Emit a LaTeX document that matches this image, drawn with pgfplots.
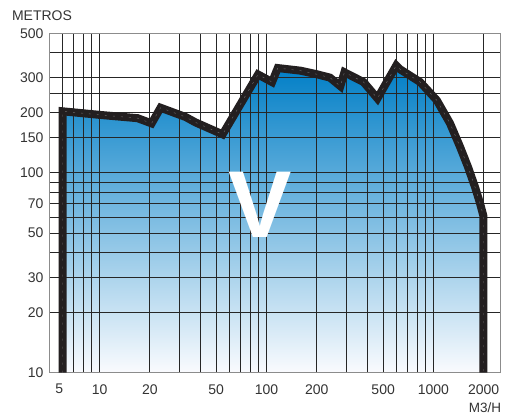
\documentclass[border=0pt]{standalone}
\usepackage{fontspec}
\setmainfont{Liberation Sans}
\usepackage{pgfplots}
\pgfplotsset{compat=1.18}
\definecolor{curve}{HTML}{231F20}
\definecolor{txt}{HTML}{333333}
\definecolor{topblue}{RGB}{0,126,198}
\definecolor{midblue}{RGB}{85,155,214}
\definecolor{botblue}{RGB}{250,251,254}
\begin{document}
\begin{tikzpicture}
\begin{axis}[
  set layers,
  scale only axis,
  width=450.7pt, height=339.4pt,
  xmode=log, ymode=log,
  xmin=5, xmax=2505, ymin=10, ymax=500,
  xtick={10,20,50,100,200,500,1000,2000},
  xticklabels={10,20,50,100,200,500,1000,2000},
  extra x ticks={5}, extra x tick labels={5},
  extra x tick style={xticklabel style={xshift=10pt}},
  minor xtick={6,7,8,9,30,40,60,70,80,90,300,400,600,700,800,900},
  ytick={10,20,30,50,70,100,150,200,300,500},
  yticklabels={10,20,30,50,70,100,150,200,300,500},
  minor ytick={40,60,80,90,250,400},
  grid=both,
  major grid style={black!85, line width=0.9pt},
  minor grid style={black!85, line width=0.9pt},
  major tick length=0pt, minor tick length=0pt,
  axis line style={black!45, line width=1pt},
  tick label style={font=\fontsize{14}{16}\selectfont, text=txt},
  xticklabel style={yshift=-8pt},
  yticklabel style={xshift=-2.3pt},
]
\coordinate (O) at (rel axis cs:0,0);
\pgfplotstableread{
x y
6 10
6 203.5
10.2 195
16.9 188
20.5 177
23.2 212
32.8 190.5
37.6 179
54.6 156
89 311
108 285
116.8 335
160 325
200 312
240 300
277 272
293 319
381.6 285
462 236
599 345
632 330
833 285
1048 231
1258 177
1444 135
1612 107
1775 85
1901 70.6
1995 60.7
1995 10
}\curvedata
\addplot[draw=none, top color=topblue, middle color=midblue, bottom color=botblue, on layer=axis background] table {\curvedata};
\addplot[curve, line width=8pt, line join=miter, miter limit=3, line cap=butt] table {\curvedata};
\addplot[white!60!gray, line width=0.4pt, dash pattern=on 2pt off 6pt, opacity=0.45] table {\curvedata};
\node[text=white, font=\fontsize{95}{95}\selectfont\bfseries] at (axis cs:92,69) {V};
\end{axis}
\node[text=txt, font=\fontsize{14}{16}\selectfont] at ([shift={(-7.3pt,356.7pt)}]O) {METROS};
\node[text=txt, font=\fontsize{13.5}{16}\selectfont] at ([shift={(435.7pt,-35.3pt)}]O) {M3/H};
\pgfresetboundingbox
\path ([shift={(-49.3pt,-43.3pt)}]O) rectangle ++(509pt,416pt);
\end{tikzpicture}
\end{document}
